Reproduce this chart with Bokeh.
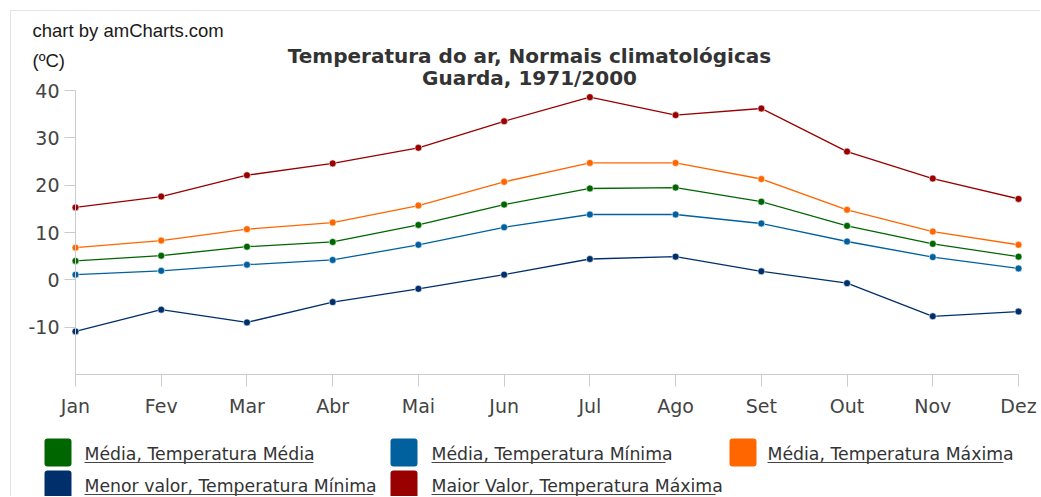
from bokeh.plotting import figure
from bokeh.layouts import column
from bokeh.models import Range1d, FixedTicker
from bokeh.embed import file_html
from bokeh.resources import INLINE
from bokeh.core.properties import value

months = ["Jan", "Fev", "Mar", "Abr", "Mai", "Jun", "Jul", "Ago", "Set", "Out", "Nov", "Dez"]
media = [4.0, 5.1, 7.0, 8.0, 11.6, 15.9, 19.3, 19.5, 16.5, 11.4, 7.6, 4.9]
media_min = [1.1, 1.9, 3.2, 4.2, 7.4, 11.1, 13.8, 13.8, 11.9, 8.1, 4.8, 2.4]
media_max = [6.8, 8.3, 10.7, 12.1, 15.7, 20.7, 24.7, 24.7, 21.3, 14.8, 10.2, 7.4]
menor_min = [-10.9, -6.3, -9.0, -4.7, -1.9, 1.1, 4.4, 4.9, 1.8, -0.7, -7.7, -6.7]
maior_max = [15.3, 17.6, 22.1, 24.6, 27.9, 33.5, 38.6, 34.8, 36.2, 27.1, 21.4, 17.1]
y_ticks = [-10, 0, 10, 20, 30, 40]
y_tick_labels = ["-10", "0", "10", "20", "30", "40"]

series_names = [
    "Média, Temperatura Média",
    "Média, Temperatura Mínima",
    "Média, Temperatura Máxima",
    "Menor valor, Temperatura Mínima",
    "Maior Valor, Temperatura Máxima",
]
series_values = [media, media_min, media_max, menor_min, maior_max]
colors = ["#006600", "#00619e", "#ff6600", "#002f6b", "#990000"]

title_1 = "Temperatura do ar, Normais climatológicas"
title_2 = "Guarda, 1971/2000"
credit = "chart by amCharts.com"
unit = "(ºC)"

FONT = "DejaVu Sans"
xs = list(range(len(months)))
Y0, Y1 = -20, 40

# layout geometry (page pixels)
ORG = 11                    # content origin after margin + border
FL, FR, FT, FB = 75, 1018, 90, 374   # data area of the chart
W, H_MAIN, H_LEG = 1029, 414, 71


def dx(px):
    return (px - FL) / ((FR - FL) / (len(months) - 1))


def dy(py):
    return Y1 - (py - FT) / ((FB - FT) / (Y1 - Y0))


p = figure(width=W, height=H_MAIN, x_range=Range1d(dx(ORG), dx(ORG + W)),
           y_range=Range1d(Y0, dy(ORG)), toolbar_location=None, output_backend="svg",
           min_border=0, min_border_left=0, min_border_right=0, min_border_top=0,
           min_border_bottom=ORG + H_MAIN - FB, outline_line_color=None)
p.frame_align = False
p.grid.visible = False

for vals, col in zip(series_values, colors):
    p.line(xs, vals, line_color=col, line_width=1.3)
    p.scatter(xs, vals, size=7, fill_color=col, line_color="white", line_width=0.6)

p.xaxis.ticker = FixedTicker(ticks=xs)
p.xaxis.major_label_overrides = {i: m for i, m in zip(xs, months)}
p.xaxis.bounds = (0, len(months) - 1)
p.yaxis.ticker = FixedTicker(ticks=y_ticks)
p.yaxis.major_label_overrides = {t: s for t, s in zip(y_ticks, y_tick_labels)}
p.yaxis.bounds = (dy(387), Y1)
p.yaxis.fixed_location = 0
for ax in (p.xaxis[0], p.yaxis[0]):
    ax.axis_line_color = "#cccccc"
    ax.major_tick_line_color = "#cccccc"
    ax.minor_tick_line_color = None
    ax.major_tick_in = 0
    ax.major_label_text_font = FONT
    ax.major_label_text_font_size = "19px"
    ax.major_label_text_color = "#444444"
p.xaxis.major_tick_out = 12
p.xaxis.major_label_standoff = 8
p.yaxis.major_tick_out = 11
p.yaxis.major_label_standoff = 5

# header texts
p.text(x=[dx(529), dx(529)], y=[dy(55.5), dy(77.5)], text=[title_1, title_2],
       text_align="center", text_baseline="middle", text_font=value(FONT),
       text_font_size="20px", text_font_style="bold", text_color="#333333")
p.text(x=[dx(32), dx(32)], y=[dy(30), dy(60)], text=[credit, unit],
       text_baseline="middle", text_font=value("Liberation Sans"),
       text_font_size="18.5px", text_color="#1a1a1a")

# legend panel (coordinates = page pixels)
leg_top = ORG + H_MAIN
leg = figure(width=W, height=H_LEG, x_range=Range1d(ORG, ORG + W),
             y_range=Range1d(leg_top + H_LEG, leg_top),
             toolbar_location=None, output_backend="svg", x_axis_type=None, y_axis_type=None,
             min_border=0, min_border_left=0, min_border_right=0, min_border_top=0,
             min_border_bottom=0, outline_line_color=None)
leg.frame_align = False
leg.grid.visible = False

col_sq = [44, 390, 729]
col_tx = [84, 431, 767]
row_top = [438, 470]
text_len = [229, 234, 236, 289, 284]
sq = 27
for i, (name, col) in enumerate(zip(series_names, colors)):
    r, c = divmod(i, 3)
    top = row_top[r]
    leg.quad(left=[col_sq[c]], right=[col_sq[c] + sq], top=[top], bottom=[top + sq + 1],
             fill_color=col, line_color=None, border_radius=3)
    leg.text(x=[col_tx[c]], y=[top + 15], text=[name], text_font=value(FONT),
             text_font_size="17.3px", text_baseline="middle", text_color="#333333")
    leg.segment(x0=[col_tx[c]], y0=[top + 24], x1=[col_tx[c] + text_len[i]], y1=[top + 24],
                line_color="#444444", line_width=1)

layout = column(p, leg, styles={"margin-left": "10px", "margin-top": "10px",
                                "border-top": "1px solid #e4e4e4",
                                "border-left": "1px solid #e4e4e4"})
open("out.html", "w").write(file_html(layout, INLINE))
